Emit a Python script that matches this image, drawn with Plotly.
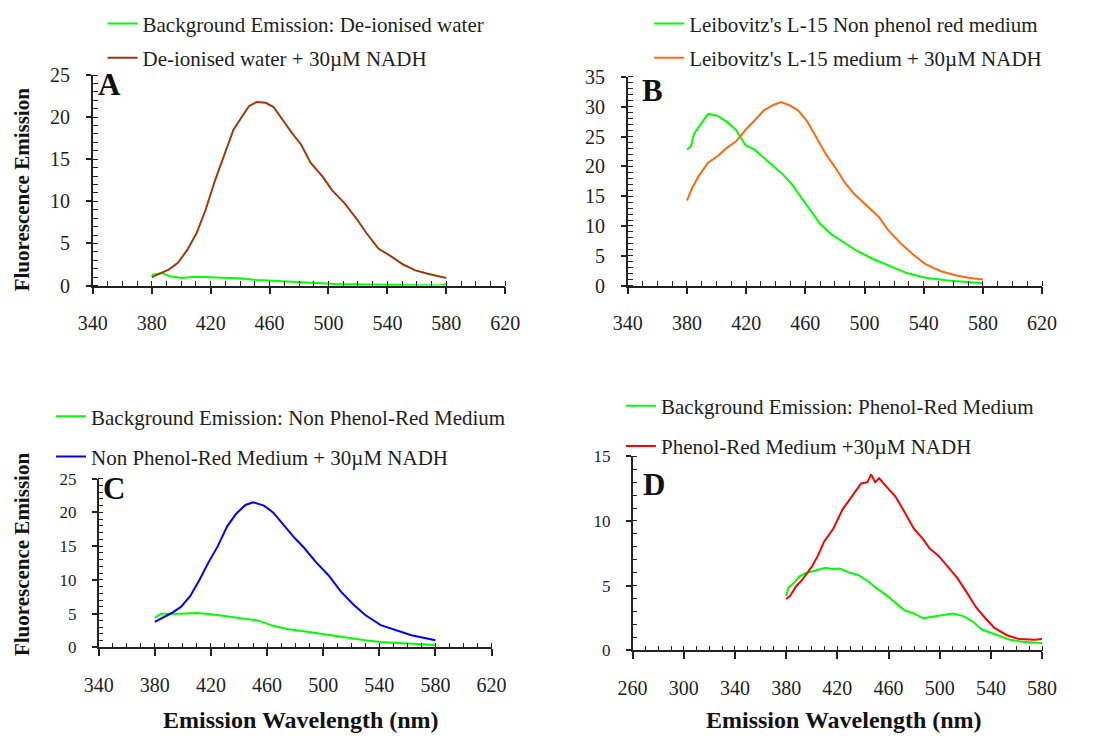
import plotly.graph_objects as go

FONT = "Liberation Serif"
TXT = "#1e1e1e"

# ---------------- data ----------------
# Panel A
a_nadh_x = [380, 385, 391.5, 397.8, 404, 410.4, 416.6, 423, 429.2, 435.5, 441.8, 446, 451.2, 457.5, 462.7,
            469, 475.3, 481.6, 487.8, 496.2, 502.5, 510.9, 519.2, 525.5, 533.9, 542.3, 550.7, 559, 567.4, 580]
a_nadh_y = [1.0, 1.4, 1.9, 2.7, 4.2, 6.2, 9.0, 12.5, 15.6, 18.5, 20.2, 21.3, 21.8, 21.7, 21.2,
            19.6, 18.1, 16.7, 14.6, 12.9, 11.3, 9.8, 7.9, 6.3, 4.4, 3.5, 2.5, 1.8, 1.4, 0.9]
a_bg_x = [380, 387.3, 391.5, 400, 410, 421, 442, 452, 462.7, 483.6, 504.6, 525.5, 546.5, 575.8, 580]
a_bg_y = [1.27, 1.5, 1.15, 0.9, 1.05, 0.96, 0.85, 0.65, 0.55, 0.35, 0.2, 0.12, 0.08, 0.02, 0.2]

# Panel B
b_nadh_x = [380, 383.8, 388, 394.3, 400.6, 406.9, 413.2, 419.5, 425.7, 432, 438.3, 443.6, 448.8, 455.1,
            461.4, 467.7, 474, 480.3, 486.6, 492.9, 501.3, 509.7, 516, 524.4, 532.8, 541.2, 551.7, 562.2,
            570.5, 580]
b_nadh_y = [14.3, 16.5, 18.4, 20.6, 21.7, 23.1, 24.2, 26.1, 27.7, 29.4, 30.3, 30.8, 30.3, 29.4,
            27.5, 24.7, 22.0, 19.8, 17.3, 15.4, 13.5, 11.5, 9.3, 7.1, 5.2, 3.6, 2.4, 1.7, 1.3, 1.0]
b_bg_x = [380, 382.7, 384.8, 389, 394.3, 400.6, 406.9, 413.2, 419.5, 425.7, 432, 438.3, 444.6, 450.9,
          457.2, 463.5, 469.8, 478.2, 486.6, 495, 505.5, 516, 528.6, 541.2, 558, 580]
b_bg_y = [22.8, 23.4, 25.5, 26.9, 28.8, 28.5, 27.5, 26.1, 23.6, 22.8, 21.4, 20.1, 18.7, 17.0,
          14.8, 12.6, 10.4, 8.5, 7.1, 5.8, 4.5, 3.4, 2.1, 1.3, 0.8, 0.4]

# Panel C
c_nadh_x = [380, 385.5, 392, 398.6, 405.2, 411.8, 418.3, 424.9, 431.5, 438, 444.6, 450.1, 457.8, 464.3,
            470.9, 479.7, 486.2, 495, 503.8, 512.5, 521.3, 530, 541, 552, 562.9, 580]
c_nadh_y = [3.8, 4.4, 5.1, 6.0, 7.6, 10.0, 12.6, 15.0, 17.9, 19.8, 21.1, 21.5, 21.0, 20.0,
            18.3, 16.2, 14.8, 12.6, 10.7, 8.3, 6.4, 4.8, 3.3, 2.5, 1.8, 1.05]
c_bg_x = [380, 384.4, 398.6, 409.6, 420.5, 431.5, 442.4, 453.4, 464.3, 475.3, 486.2, 497.2, 508.1,
          519, 530, 541, 552, 562.9, 580]
c_bg_y = [4.4, 5.0, 5.0, 5.1, 4.9, 4.6, 4.4, 4.0, 3.2, 2.7, 2.4, 2.05, 1.76,
          1.43, 1.05, 0.8, 0.67, 0.48, 0.38]

# Panel D
d_nadh_x = [380, 382.9, 387.8, 392.6, 399.9, 404.7, 409.6, 416.8, 424.1, 431.4, 438.6, 443.5, 446.4,
            449.5, 452.7, 458, 465.3, 472.5, 479.8, 487, 491.9, 499.2, 506.5, 513.7, 521, 528.2, 535.5,
            542.8, 552.5, 562.2, 574.3, 580]
d_nadh_y = [3.97, 4.2, 4.96, 5.46, 6.45, 7.3, 8.4, 9.4, 10.9, 11.9, 12.9, 13.0, 13.6,
            13.0, 13.3, 12.7, 11.9, 10.7, 9.4, 8.6, 7.9, 7.3, 6.45, 5.6, 4.5, 3.35, 2.5,
            1.74, 1.17, 0.87, 0.82, 0.87]
d_bg_x = [380, 381.7, 385.3, 390.2, 395, 402.3, 410.8, 416.8, 421.7, 429, 436.2, 443.5, 450.8, 458,
          465.3, 472.5, 479.8, 487, 494.3, 501.6, 510.1, 518.5, 525.8, 533, 540.3, 547.6, 554.9, 564.6,
          574.3, 580]
d_bg_y = [4.2, 4.84, 5.14, 5.7, 5.96, 6.13, 6.38, 6.28, 6.33, 6.03, 5.83, 5.38, 4.79, 4.29,
          3.72, 3.1, 2.85, 2.48, 2.6, 2.73, 2.85, 2.65, 2.23, 1.61, 1.36, 1.07, 0.82, 0.67,
          0.62, 0.57]

W, H = 1096, 738
def px(x):
    return x / W
def py(y):
    return (H - y) / H

fig = go.Figure()

def add(x, y, name, color, n, legend):
    fig.add_trace(go.Scatter(
        x=x, y=y, name=name, mode="lines",
        line=dict(color=color, width=2),
        xaxis="x" if n == 1 else f"x{n}", yaxis="y" if n == 1 else f"y{n}",
        legend=legend, legendgroup=name, showlegend=True))

GREEN = "#00FF00"
add(a_bg_x, a_bg_y, "Background Emission: De-ionised water", GREEN, 1, "legend")
add(a_nadh_x, a_nadh_y, "De-ionised water + 30\u00b5M NADH", "#A0380A", 1, "legend")
add(b_bg_x, b_bg_y, "Leibovitz's L-15 Non phenol red medium", GREEN, 2, "legend2")
add(b_nadh_x, b_nadh_y, "Leibovitz's L-15 medium + 30\u00b5M NADH", "#FF6A10", 2, "legend2")
add(c_bg_x, c_bg_y, "Background Emission: Non Phenol-Red Medium", GREEN, 3, "legend3")
add(c_nadh_x, c_nadh_y, "Non Phenol-Red Medium + 30\u00b5M NADH", "#0000FF", 3, "legend3")
add(d_bg_x, d_bg_y, "Background Emission: Phenol-Red Medium", GREEN, 4, "legend4")
add(d_nadh_x, d_nadh_y, "Phenol-Red Medium +30\u00b5M NADH", "#FF0000", 4, "legend4")

AX = "#222222"

def xax(domain, rng, anchor, size=20):
    return dict(domain=domain, range=rng, anchor=anchor, tick0=rng[0], dtick=40,
                ticks="outside", ticklen=7, tickwidth=1.5, tickcolor=AX,
                showline=True, linecolor=AX, linewidth=1.5, showgrid=False, zeroline=False,
                tickfont=dict(family=FONT, size=size, color=TXT), ticklabelstandoff=12,
                minor=dict(dtick=10, tick0=rng[0], ticks="inside", ticklen=5, tickwidth=1.2,
                           tickcolor=AX, showgrid=False),
                fixedrange=True)

def yax(domain, rng, anchor, size=20):
    return dict(domain=domain, range=rng, anchor=anchor, tick0=0, dtick=5,
                ticks="outside", ticklen=5, tickwidth=1.5, tickcolor=AX,
                showline=True, linecolor=AX, linewidth=1.5, showgrid=False, zeroline=False,
                tickfont=dict(family=FONT, size=size, color=TXT), ticklabelstandoff=12,
                minor=dict(dtick=1, tick0=0, ticks="inside", ticklen=5, tickwidth=1.2,
                           tickcolor=AX, showgrid=False),
                fixedrange=True)

# overlay axes that draw the inner half of the major (crossing) ticks
def xin(domain, rng, over, anchor):
    return dict(domain=domain, range=rng, overlaying=over, anchor=anchor, tick0=rng[0], dtick=40,
                ticks="inside", ticklen=5, tickwidth=1.5, tickcolor=AX, showticklabels=False,
                showline=False, showgrid=False, zeroline=False, fixedrange=True)

def yin(domain, rng, over, anchor):
    return dict(domain=domain, range=rng, overlaying=over, anchor=anchor, tick0=0, dtick=5,
                ticks="inside", ticklen=5, tickwidth=1.5, tickcolor=AX, showticklabels=False,
                showline=False, showgrid=False, zeroline=False, fixedrange=True)

dA_x = [px(80), px(504)];  dA_y = [py(283), py(66)]
dB_x = [px(630), px(1056)]; dB_y = [py(283), py(68)]
dC_x = [px(86), px(490)];  dC_y = [py(656), py(482)]
dD_x = [px(635), px(1056)]; dD_y = [py(659), py(459)]

fig.update_layout(
    xaxis=xax(dA_x, [340, 620], "y"), yaxis=yax(dA_y, [0, 25], "x"),
    xaxis2=xax(dB_x, [340, 620], "y2"), yaxis2=yax(dB_y, [0, 35], "x2"),
    xaxis3=xax(dC_x, [340, 620], "y3"), yaxis3=yax(dC_y, [0, 25], "x3", size=17),
    xaxis4=xax(dD_x, [260, 580], "y4"), yaxis4=yax(dD_y, [0, 15], "x4", size=17),
    xaxis5=xin(dA_x, [340, 620], "x", "y"), yaxis5=yin(dA_y, [0, 25], "y", "x"),
    xaxis6=xin(dB_x, [340, 620], "x2", "y2"), yaxis6=yin(dB_y, [0, 35], "y2", "x2"),
    xaxis7=xin(dC_x, [340, 620], "x3", "y3"), yaxis7=yin(dC_y, [0, 25], "y3", "x3"),
    xaxis8=xin(dD_x, [260, 580], "x4", "y4"), yaxis8=yin(dD_y, [0, 15], "y4", "x4"),
)

def leg(x, y, gap):
    return dict(x=px(x), y=py(y), xanchor="left", yanchor="top", bgcolor="rgba(0,0,0,0)",
                font=dict(family=FONT, size=21, color=TXT), traceorder="grouped",
                tracegroupgap=gap, itemwidth=30)

fig.update_layout(
    legend=leg(90, -8, 4),
    legend2=leg(652, -8, 4),
    legend3=leg(37, 397, 10),
    legend4=leg(623, 386, 10),
)

annots = []
for t, x, y in [("A", 97, 76), ("B", 655, 82), ("C", 102, 492), ("D", 657, 488)]:
    annots.append(dict(text=f"<b>{t}</b>", x=px(x), y=py(y), xref="paper", yref="paper",
                       xanchor="center", yanchor="middle",
                       showarrow=False, font=dict(family=FONT, size=31, color="#111")))
for y in [184, 560]:
    annots.append(dict(text="<b>Fluorescence Emission</b>", x=px(7), y=py(y), xref="paper",
                       yref="paper", showarrow=False, textangle=-90,
                       xanchor="center", yanchor="middle",
                       font=dict(family=FONT, size=21, color="#111")))
for x in [294, 852]:
    annots.append(dict(text="<b>Emission Wavelength (nm)</b>", x=px(x), y=py(731), xref="paper",
                       yref="paper", showarrow=False, xanchor="center", yanchor="middle",
                       font=dict(family=FONT, size=24, color="#111")))

fig.update_layout(annotations=annots, width=W, height=H, margin=dict(l=0, r=0, t=0, b=0),
                  plot_bgcolor="white", paper_bgcolor="white", showlegend=True)

fig.write_html("out.html", config={"displayModeBar": False})
